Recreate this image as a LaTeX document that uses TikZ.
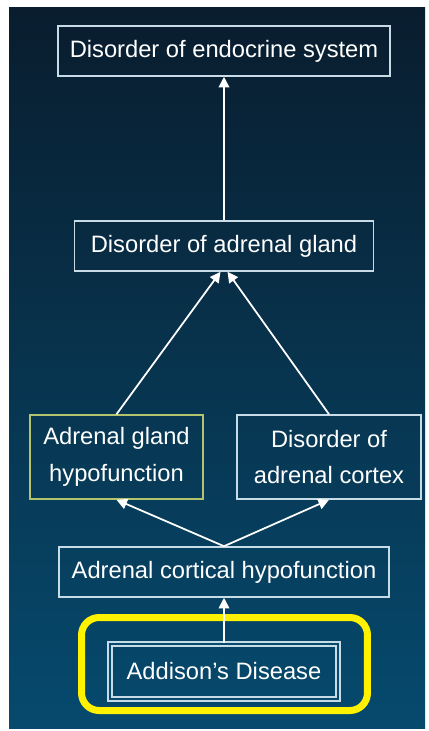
\documentclass[tikz,border=0pt]{standalone}
\usepackage{fontspec}
\setmainfont{Liberation Sans}
\usetikzlibrary{arrows.meta}
\definecolor{bgtop}{RGB}{9,29,46}
\definecolor{bgbottom}{RGB}{6,74,110}
\definecolor{boxline}{RGB}{200,220,232}
\definecolor{greenline}{RGB}{180,196,110}

\begin{document}
\begin{tikzpicture}[x=0.02cm,y=-0.02cm,
    disorder/.style ={rectangle, draw=boxline, line width=0.9pt, text=white,
      font=\fontsize{13.5}{21}\selectfont, align=center, inner sep=0pt},
    link/.style ={draw=white, line width=1pt, -{Triangle[width=6pt,length=6pt]}}]
   \useasboundingbox (0,0) rectangle (429,731);
   \fill[white] (0,0) rectangle (429,731);
   \shade[top color=bgtop, bottom color=bgbottom] (9,7) rectangle (425,728);

   \node[disorder, minimum width=6.64cm, minimum height=1cm] (A) at (224,51)  {Disorder of endocrine system};
   \node[disorder, minimum width=5.98cm, minimum height=1cm] (B) at (224,246)  {Disorder of adrenal gland};
   \node[disorder, draw=greenline, minimum width=3.46cm, minimum height=1.68cm] (C) at (116.5,457)  {Adrenal gland\\hypofunction};
   \node[disorder, minimum width=3.68cm, minimum height=1.68cm] (D) at (329,457)  {Disorder of\\adrenal cortex};
   \node[disorder, minimum width=6.6cm, minimum height=1cm] (E) at (224,572)  {Adrenal cortical hypofunction};
   \node[disorder, double=bgbottom, double distance=0.05cm, minimum width=4.56cm, minimum height=1.1cm] (F) at (224,671.5)  {Addison's Disease};
   \node[draw=yellow, line width=0.14cm, rounded corners=0.35cm, minimum width=5.72cm, minimum height=1.86cm] (G) at (224.5,664)  {};

   \draw[link] (B) to  (A);
   \draw[link] (C.north) to  ([xshift=-2pt]B.south);
   \draw[link] (D.north) to  ([xshift=2pt]B.south);
   \draw[link] (E.north) to  (C.south);
   \draw[link] (E.north) to  (D.south);
   \draw[link] (F) to  (E);
 \end{tikzpicture}
\end{document}
